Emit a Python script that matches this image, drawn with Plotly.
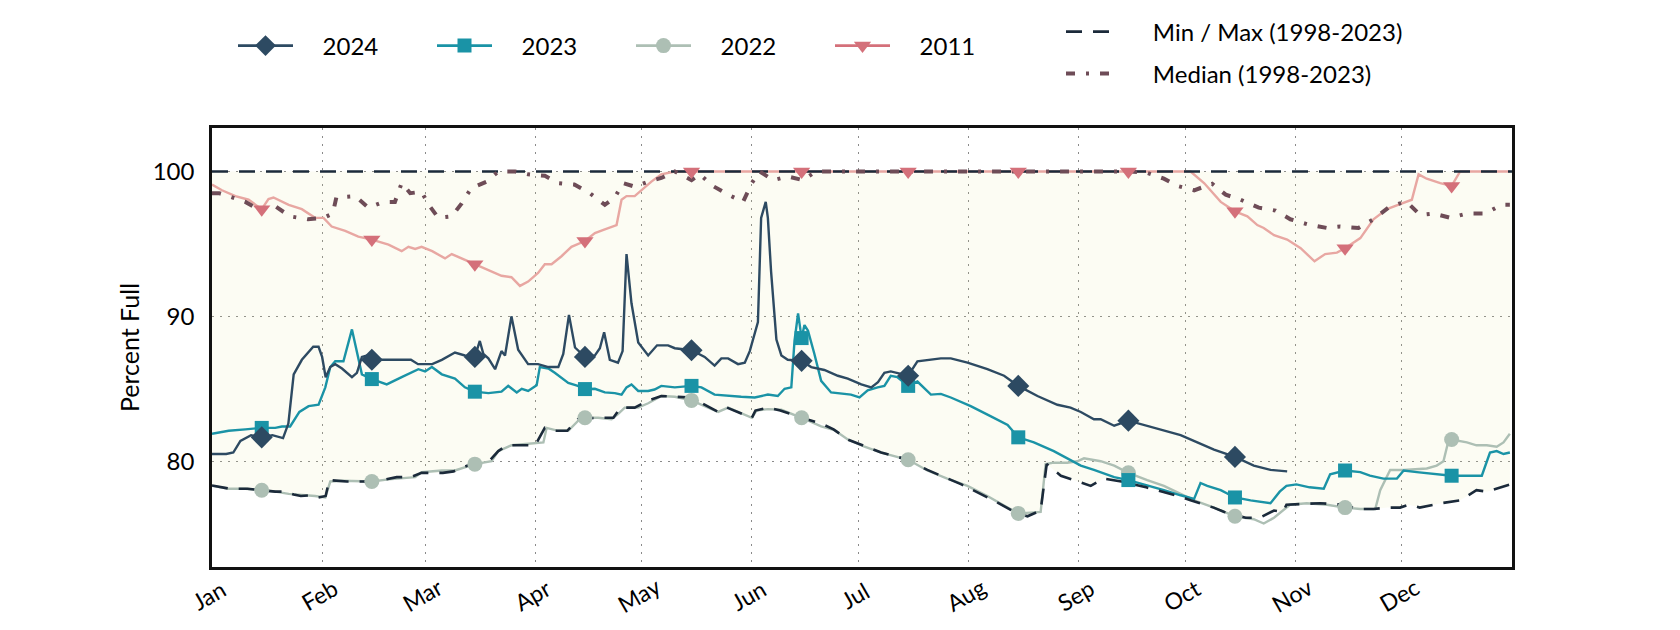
import pandas as pd
import plotly.graph_objects as go

# day offsets from Jan 1 (leap-year calendar), values in percent full
mark_days = [14, 45, 74, 105, 135, 166, 196, 227, 258, 288, 319, 349]
months = ["Jan", "Feb", "Mar", "Apr", "May", "Jun", "Jul", "Aug", "Sep", "Oct", "Nov", "Dec"]
yticks = [80, 90, 100]

days_2024 = [0, 4, 6, 8, 11, 14, 17, 20, 21.5, 23, 25.3, 28.5, 30, 31, 32, 33.3, 34.7, 36.6, 39.4, 40.8,
             42.2, 43.6, 45, 48.7, 56, 58, 62, 64.7, 68.4, 71.2, 74, 75.4, 76.4, 77.8, 79.7, 81.5, 82.5,
             84.3, 86.2, 89, 91.8, 94.7, 97.5, 98.9, 100.5, 102.2, 105, 107.8, 109.2, 110.4, 112, 114.3,
             115.6, 116.7, 118.1, 120, 122.8, 125.3, 128.4, 130.3, 135, 138.7, 141.5, 143.4, 145.3, 148.1,
             150, 151.4, 153.7, 154.6, 155.9, 156.5, 157.4, 158.9, 160.3, 162.1, 166, 168.7, 172.4, 176.2,
             179, 182.8, 185.6, 187.5, 189.3, 191.1, 194, 196, 198.6, 201.4, 205.2, 208, 212.7, 218.3, 223,
             227, 232.4, 238, 241.7, 244.6, 248.3, 250.2, 254, 258, 263.3, 268, 272.7, 277.4, 282.1, 288,
             293.3, 298, 302.7]
vals_2024 = [80.5, 80.5, 80.6, 81.4, 81.8, 81.65, 81.8, 81.6, 82.6, 86.0, 87.0, 87.9, 87.9, 87.2, 85.8, 86.5,
             86.7, 86.4, 85.8, 86.1, 87.2, 87.3, 87.0, 87.0, 87.0, 86.7, 86.7, 87.0, 87.5, 87.3, 87.2, 88.3,
             87.4, 87.1, 86.35, 87.6, 87.3, 90.0, 87.7, 86.7, 86.7, 86.5, 86.5, 87.4, 90.1, 87.85, 87.2,
             87.3, 87.8, 88.9, 87.0, 86.8, 87.6, 94.3, 90.9, 88.2, 87.3, 88.0, 88.0, 87.8, 87.66, 87.2, 86.6,
             87.1, 87.1, 86.7, 86.8, 87.6, 89.6, 96.8, 97.9, 96.8, 93.1, 88.4, 87.3, 87.0, 86.93, 86.5, 86.3,
             85.9, 85.7, 85.3, 85.1, 85.45, 86.1, 86.2, 86.0, 85.9, 86.9, 87.0, 87.1, 87.1, 86.8, 86.35, 85.9,
             85.2, 84.5, 83.9, 83.7, 83.4, 82.9, 82.9, 82.45, 82.8, 82.45, 82.1, 81.8, 81.3, 80.8, 80.3,
             79.7, 79.4, 79.3]

days_2023 = [0, 4.7, 9.4, 14, 17.8, 19.7, 22, 24.6, 27.2, 30, 31.9, 33.3, 34.7, 37, 39.4, 41, 42.2, 45, 49.2,
             53.4, 58.1, 60, 61.9, 64.7, 68.4, 71.2, 74, 77.8, 81.5, 83.4, 85.8, 87.2, 89, 91.4, 92.3, 94.7,
             96.5, 100.3, 103, 105, 107.8, 110.6, 113.4, 115.3, 116.7, 118.1, 120, 122.8, 124.6, 126.5,
             130.3, 135, 137.8, 141.5, 145.3, 149, 152.8, 156.5, 159.3, 161.2, 163.1, 164, 165, 166, 166.8,
             167.8, 169.6, 171.5, 174.3, 177.1, 179.9, 182.3, 184.6, 187.4, 189.3, 191.1, 193, 196, 198.6,
             202.4, 205.2, 208, 213.6, 219.3, 224, 227, 231.4, 237, 240.8, 244.6, 248.3, 254, 258, 263.3,
             268, 272.7, 276.5, 278.3, 280.2, 284, 288, 292.4, 298, 300.6, 302.5, 305.3, 309, 313, 314.8,
             319, 323.3, 326, 329.8, 333.6, 335.5, 339.2, 343.9, 349, 353.3, 357.5, 359.8, 361.7, 363.6,
             365.4]
vals_2023 = [81.9, 82.1, 82.2, 82.3, 82.3, 82.4, 82.4, 83.4, 83.8, 83.9, 85.1, 86.5, 86.9, 86.9, 89.1, 87.3,
             86.0, 85.67, 85.3, 85.8, 86.35, 86.2, 86.5, 86.0, 85.7, 85.1, 84.8, 84.7, 84.8, 85.2, 84.75,
             85.0, 84.85, 85.25, 86.5, 86.4, 86.1, 85.4, 85.2, 84.98, 85.0, 84.75, 84.7, 84.6, 85.1, 85.3,
             84.85, 84.85, 84.95, 85.2, 85.1, 85.2, 85.1, 84.6, 84.5, 84.45, 84.4, 84.6, 84.5, 85.0, 85.1,
             88.3, 90.2, 88.5, 89.4, 89.0, 87.4, 85.55, 84.75, 84.7, 84.6, 84.4, 84.9, 85.1, 85.2, 85.9,
             85.8, 85.2, 85.5, 84.6, 84.65, 84.4, 83.8, 83.1, 82.5, 81.65, 81.3, 80.7, 80.2, 79.7, 79.4,
             78.9, 78.7, 78.3, 78.0, 77.65, 77.4, 78.5, 78.3, 78.0, 77.5, 77.3, 77.1, 77.9, 78.3, 78.4, 78.2,
             78.1, 79.1, 79.36, 79.25, 79.0, 78.8, 78.8, 79.36, 79.25, 79.15, 79.0, 79.0, 79.0, 80.6, 80.7,
             80.5, 80.6]

days_2022 = [0, 4.7, 9.4, 14, 17.8, 21.6, 25.3, 29, 31.9, 33.3, 36.6, 41.2, 45, 49.7, 53.4, 57.2, 59, 64.7,
             68.4, 74, 78.7, 80.6, 84.3, 89, 93.3, 94.2, 97.5, 100.3, 103.1, 105, 108.7, 112.5, 114.3, 116.2,
             120, 122.8, 126.5, 130.3, 135, 138.7, 142.5, 145.3, 149, 152, 153.3, 156.5, 160.3, 166, 171.5,
             175.2, 179, 183.7, 188.4, 196, 201.4, 207, 212.7, 218.3, 224, 227, 230.5, 233.3, 234.7, 237,
             240.8, 243.6, 245.5, 250.2, 254, 258, 263.3, 268, 272.7, 276.5, 282.1, 288, 293.3, 296.1, 299,
             301.6, 303.5, 308.2, 313.9, 319, 323.3, 327.5, 328.9, 331.7, 335.5, 342, 344.8, 346.7, 348,
             349, 353.3, 356, 358.9, 361.7, 363.6, 365.4]
vals_2022 = [78.3, 78.1, 78.1, 78.0, 77.9, 77.75, 77.7, 77.6, 77.5, 78.6, 78.65, 78.6, 78.6, 78.75, 78.8, 78.9,
             79.24, 79.36, 79.36, 79.8, 80.0, 80.7, 81.1, 81.2, 81.3, 82.3, 82.1, 82.1, 82.8, 83.0, 83.0,
             82.9, 83.25, 83.7, 83.7, 84.0, 84.5, 84.45, 84.2, 83.8, 83.4, 83.7, 83.3, 83.0, 83.5, 83.6,
             83.55, 83.0, 82.4, 82.15, 81.5, 81.0, 80.6, 80.1, 79.36, 78.8, 78.3, 77.6, 76.8, 76.4, 76.45,
             76.5, 79.8, 79.9, 79.9, 80.0, 80.2, 80.0, 79.7, 79.2, 78.7, 78.3, 77.75, 77.3, 76.8, 76.2, 76.0,
             75.7, 76.1, 76.6, 77.0, 77.1, 77.0, 76.8, 76.7, 76.7, 78.0, 79.4, 79.4, 79.5, 79.7, 80.0, 81.3,
             81.5, 81.3, 81.1, 81.1, 81.0, 81.3, 81.9]

days_2011 = [0, 2.8, 6.6, 10.3, 14, 15.9, 17.3, 21.6, 25.3, 29, 31.4, 33.7, 37.5, 41.2, 45, 49.7, 53.4, 55.3,
             57.2, 59, 62, 65.6, 67.5, 70.3, 74, 77.8, 81.5, 84.3, 86.7, 89, 91.8, 93.7, 95.6, 98.4, 101.2,
             105, 107.8, 110.6, 113.9, 115.3, 116.7, 119, 120.9, 123.7, 126.5, 130.3, 135, 166, 196, 227,
             258, 275.5, 279.3, 284, 288, 291.5, 294.3, 296.1, 299, 302.7, 306.5, 310.4, 313.4, 316.7, 319,
             323.3, 327, 330.8, 334.5, 337.8, 339.7, 342, 345.8, 349, 351.4, 365.5]
vals_2011 = [99.1, 98.7, 98.3, 98.05, 97.4, 98.1, 98.2, 97.7, 97.4, 96.8, 96.8, 96.2, 95.9, 95.5, 95.3, 94.95,
             94.5, 94.8, 94.65, 94.8, 94.5, 94.0, 94.3, 94.0, 93.6, 93.2, 92.8, 92.7, 92.1, 92.4, 93.0, 93.6,
             93.6, 94.15, 94.8, 95.2, 95.75, 96.0, 96.3, 98.05, 98.3, 98.3, 98.7, 99.3, 99.8, 100, 100, 100,
             100, 100, 100, 100, 99.2, 97.9, 97.25, 96.9, 96.3, 96.1, 95.6, 95.3, 94.7, 93.8, 94.3, 94.4,
             94.7, 95.4, 96.7, 97.4, 97.75, 98.05, 99.8, 99.5, 99.2, 99.0, 100, 100]

days_min = [0, 5, 10, 14, 17.8, 20.6, 23, 25, 28, 30, 32, 33, 38, 44, 48, 52, 56, 59, 65, 68, 73, 78, 80.6,
            83, 91, 93.7, 96.5, 100, 103, 108, 113, 115, 119, 123, 126.5, 135, 140, 142.5, 145, 149, 152,
            153, 156.5, 160, 166, 171.5, 175, 179, 183, 188.4, 196, 201.4, 211, 220, 226.7, 229.6, 233.3,
            235, 239, 244.6, 247.4, 251, 256, 263, 272, 275.5, 282, 285, 291, 295, 299, 301.5, 302.5, 312,
            318, 323, 327, 331, 334.5, 337, 340, 346, 351.4, 356, 359, 365.4]
vals_min = [78.33, 78.1, 78.1, 78.0, 77.9, 77.9, 77.7, 77.6, 77.65, 77.5, 77.6, 78.7, 78.6, 78.6, 78.7, 78.9,
            78.9, 79.2, 79.2, 79.3, 79.8, 80.0, 80.7, 81.1, 81.1, 82.3, 82.1, 82.1, 82.9, 83.0, 83.0, 83.7,
            83.7, 84.2, 84.5, 84.4, 83.7, 83.4, 83.7, 83.3, 83.0, 83.5, 83.7, 83.5, 83.0, 82.6, 82.2, 81.5,
            81.1, 80.6, 80.1, 79.4, 78.4, 77.3, 76.4, 76.2, 76.6, 79.8, 79.0, 78.55, 78.3, 78.8, 78.6, 78.2,
            77.6, 77.3, 76.8, 76.5, 76.1, 76.1, 76.6, 76.5, 77.0, 77.1, 77.0, 76.7, 76.7, 76.8, 76.8, 77.0,
            76.8, 77.1, 77.3, 78.0, 77.9, 78.4]

days_max = [0, 91, 182, 274, 366]
vals_max = [100, 100, 100, 100, 100]

days_med = [0, 2, 4.7, 9.4, 13, 17.8, 22, 27, 31.4, 34, 35, 40.3, 44, 48.3, 51.5, 53.4, 55.8, 59, 61, 63.7,
            67.5, 70.3, 73, 77.3, 80.6, 85.3, 89, 93.7, 97.5, 102, 106.4, 110.6, 113.4, 115.7, 119, 122.8,
            126.5, 130.3, 135, 137.3, 141, 145.3, 149.5, 152, 154.2, 158, 162.1, 166.4, 170, 200, 230,
            258.6, 263.3, 268, 271.8, 276.5, 281.6, 285.4, 289.6, 294.7, 299.4, 303.6, 308.5, 313.9, 317.6,
            322.8, 327, 331.2, 334.5, 336.4, 340.1, 343.9, 348.6, 353.3, 358.4, 363.1, 365.4]
vals_med = [98.5, 98.5, 98.3, 97.9, 97.4, 97.6, 96.9, 96.7, 96.8, 97.1, 98.2, 98.3, 97.5, 97.9, 97.9, 99.2,
            98.5, 98.6, 97.7, 96.8, 96.9, 97.8, 98.85, 99.3, 100.0, 100.0, 99.8, 99.7, 99.2, 99.1, 98.5, 97.7,
            98.2, 99.2, 98.95, 99.3, 99.55, 100, 99.4, 99.8, 99.0, 98.4, 97.9, 99.2, 100, 99.4, 99.65, 99.4,
            100, 100, 100, 100, 99.9, 99.5, 99.0, 98.7, 99.15, 98.4, 98.05, 97.5, 97.3, 96.7, 96.35, 96.1,
            96.2, 96.1, 96.7, 97.5, 97.8, 97.9, 97.0, 97.1, 96.8, 97.1, 97.1, 97.7, 97.7]

base = pd.Timestamp("2024-01-01")


def dates(days):
    return base + pd.to_timedelta(days, unit="D")


years = [
    ("2024", days_2024, vals_2024, "#2d4a62", "#2d4a62", "diamond", 17),
    ("2023", days_2023, vals_2023, "#1a93a6", "#1a93a6", "square", 14),
    ("2022", days_2022, vals_2022, "#adbfb4", "#adbfb4", "circle", 15),
    ("2011", days_2011, vals_2011, "#e8a7a2", "#d4707a", "triangle-down", 15),
]
NAVY = "#1b2a3a"
MAUVE = "#6e4c57"
MM_DASH = "16px,11px"
MED_DASH = "9px,11px,3px,11px"
PAD = "\u00a0" * 4

# the page adds an 8px body margin, so the figure is 8px smaller than the window
W, H = 1672, 622

fig = go.Figure()

# shaded band between min and max (translucent so the grid shows through)
fig.add_trace(go.Scatter(x=dates(days_min), y=vals_min, mode="lines", line=dict(width=0),
                         showlegend=False, hoverinfo="skip"))
fig.add_trace(go.Scatter(x=dates(days_max), y=vals_max, mode="lines", line=dict(width=0),
                         fill="tonexty", fillcolor="rgba(225,225,150,0.11)", showlegend=False,
                         hoverinfo="skip"))

for name, d, v, lc, mc, sym, ms in reversed(years):
    fig.add_trace(go.Scatter(x=dates(d), y=v, mode="lines", line=dict(color=lc, width=2.4),
                             showlegend=False, name=name))

fig.add_trace(go.Scatter(x=dates(days_max), y=vals_max, mode="lines",
                         line=dict(color=NAVY, width=2.6, dash=MM_DASH), showlegend=False))
fig.add_trace(go.Scatter(x=dates(days_min), y=vals_min, mode="lines",
                         line=dict(color=NAVY, width=2.6, dash=MM_DASH), showlegend=False))
fig.add_trace(go.Scatter(x=dates(days_med), y=vals_med, mode="lines",
                         line=dict(color=MAUVE, width=4, dash=MED_DASH), showlegend=False))

for name, d, v, lc, mc, sym, ms in reversed(years):
    md = [x for x in d if x in mark_days]
    mv = [y for x, y in zip(d, v) if x in mark_days]
    fig.add_trace(go.Scatter(x=dates(md), y=mv, mode="markers", showlegend=False,
                             marker=dict(symbol=sym, size=ms, color=mc, line=dict(width=0))))

# legend entries
for name, d, v, lc, mc, sym, ms in years:
    fig.add_trace(go.Scatter(x=[None], y=[None], mode="lines+markers", name=PAD + name,
                             legend="legend", line=dict(color=mc, width=2.6),
                             marker=dict(symbol=sym, size=ms, color=mc)))
fig.add_trace(go.Scatter(x=[None], y=[None], mode="lines", name=PAD + "\u00a0\u00a0Min / Max (1998-2023)",
                         legend="legend2", line=dict(color=NAVY, width=2.6, dash=MM_DASH)))
fig.add_trace(go.Scatter(x=[None], y=[None], mode="lines", name=PAD + "\u00a0\u00a0Median (1998-2023)",
                         legend="legend3", line=dict(color=MAUVE, width=4, dash=MED_DASH)))

for i, m in enumerate(months):
    fig.add_annotation(x=dates([pd.Timestamp(2024, i + 1, 1).dayofyear - 1])[0], y=-0.064,
                       xref="x", yref="paper", text=m, showarrow=False, textangle=-30,
                       xanchor="center", yanchor="middle", xshift=-3,
                       font=dict(size=23, color="black"))

leg_common = dict(xref="container", yref="container", xanchor="left", yanchor="middle",
                  bgcolor="rgba(0,0,0,0)", font=dict(size=24))
fig.update_layout(
    width=W, height=H,
    margin=dict(l=204, r=168, t=120, b=63, autoexpand=False),
    plot_bgcolor="white", paper_bgcolor="white",
    font=dict(family="Lato", size=22, color="black"),
    legend=dict(orientation="h", x=225 / W, y=1 - 38 / H, traceorder="normal", itemwidth=55,
                entrywidth=129, **leg_common),
    legend2=dict(orientation="v", x=1053 / W, y=1 - 24 / H, itemwidth=45, **leg_common),
    legend3=dict(orientation="v", x=1053 / W, y=1 - 66 / H, itemwidth=45, **leg_common),
)
fig.update_xaxes(range=[base, base + pd.Timedelta(days=366)], tick0="2024-01-01", dtick="M1",
                 showticklabels=False, ticks="", showgrid=True, gridcolor="#8a8a8a",
                 griddash="2px,6px", gridwidth=1, showline=True, mirror=True,
                 linecolor="#111111", linewidth=2.5, zeroline=False)
fig.update_yaxes(range=[72.7, 103.0], tickvals=yticks, ticks="", showgrid=True, gridcolor="#8a8a8a",
                 griddash="2px,6px", gridwidth=1, showline=True, mirror=True, linecolor="#111111",
                 linewidth=2.5, zeroline=False, tickfont=dict(size=24), ticklabelstandoff=10,
                 title=dict(text="Percent Full", font=dict(size=25), standoff=6))

fig.write_html("out.html")
